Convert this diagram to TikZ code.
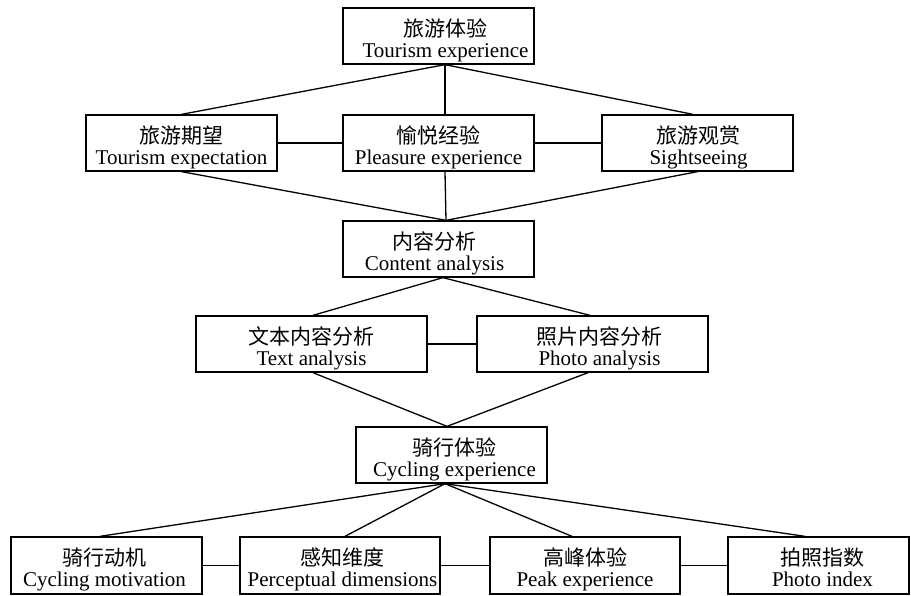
\documentclass[tikz,border=0pt]{standalone}
\usepackage{fontspec}
\setmainfont{Liberation Serif}
\newfontfamily\cjk{Noto Sans CJK SC}
\usetikzlibrary{calc}
\newcommand\twol[3]{\hspace*{#1}{\cjk #2}\rule{0pt}{26pt}\\\hspace*{#1}#3\rule[-4.5pt]{0pt}{4.5pt}}
\begin{document}
\begin{tikzpicture}[x=1pt,y=-1pt,
  box/.style={draw, line width=1.3pt, inner sep=0pt, minimum height=56pt,
    minimum width=191pt, align=center, font=\fontsize{21}{21}\selectfont},
  conn/.style={line width=1.3pt}]
\fill[white] (0,0) rectangle (911,596);
\useasboundingbox (0,0) rectangle (911,596);
% boxes
\node[box] (tour)  at (438.5,36)  {\twol{14pt}{旅游体验}{Tourism experience}};
\node[box] (exp)   at (181.5,143) {\twol{0pt}{旅游期望}{Tourism expectation}};
\node[box] (pls)   at (438.5,143) {\twol{0pt}{愉悦经验}{Pleasure experience}};
\node[box] (sight) at (697.5,143) {\twol{2pt}{旅游观赏}{Sightseeing}};
\node[box] (cont)  at (438.5,249) {\twol{-8pt}{内容分析}{Content analysis}};
\node[box, minimum width=231pt] (text)  at (311.5,344) {\twol{0pt}{文本内容分析}{Text analysis}};
\node[box, minimum width=231pt] (photo) at (592.5,344) {\twol{14pt}{照片内容分析}{Photo analysis}};
\node[box] (cyc)   at (451.5,455) {\twol{6pt}{骑行体验}{Cycling experience}};
\node[box, minimum height=57pt] (mot)  at (106.5,565.5) {\twol{-4pt}{骑行动机}{Cycling motivation}};
\node[box, minimum height=57pt, minimum width=200pt] (perc) at (340,565.5) {\twol{5pt}{感知维度}{Perceptual dimensions}};
\node[box, minimum height=57pt, minimum width=190pt] (peak) at (585,565.5) {\twol{0pt}{高峰体验}{Peak experience}};
\node[box, minimum height=57pt, minimum width=181pt] (idx)  at (818.5,565.5) {\twol{8pt}{拍照指数}{Photo index}};
% attachment points
\coordinate (tourS) at ($(tour.south)+(6.5,0)$);
\coordinate (plsN)  at ($(pls.north)+(6.5,0)$);
\coordinate (plsS)  at ($(pls.south)+(6.5,0)$);
\coordinate (sightN) at ($(sight.north)+(-4.5,0)$);
\coordinate (contN) at ($(cont.north)+(7.5,0)$);
\coordinate (contS) at ($(cont.south)+(4.5,0)$);
\coordinate (textN) at ($(text.north)+(1.5,0)$);
\coordinate (textS) at ($(text.south)+(1.5,0)$);
\coordinate (photoN) at ($(photo.north)+(-2.5,0)$);
\coordinate (photoS) at ($(photo.south)+(-4.5,0)$);
\coordinate (cycN) at ($(cyc.north)+(-4.5,0)$);
\coordinate (cycS) at ($(cyc.south)+(-6.5,0)$);
\coordinate (motN) at ($(mot.north)+(-6.5,0)$);
\coordinate (percN) at ($(perc.north)+(5,0)$);
\coordinate (peakN) at ($(peak.north)+(-13,0)$);
\coordinate (idxN) at ($(idx.north)+(-13.5,0)$);
% connectors
\draw[conn] (tourS) -- (exp.north);
\draw[conn] (tourS) -- (plsN);
\draw[conn] (tourS) -- (sightN);
\draw[conn] (exp.east) -- (pls.west);
\draw[conn] (pls.east) -- (sight.west);
\draw[conn] (exp.south) -- (contN);
\draw[conn] (plsS) -- (contN);
\draw[conn] (sight.south) -- (contN);
\draw[conn] (contS) -- (textN);
\draw[conn] (contS) -- (photoN);
\draw[conn] (text.east) -- (photo.west);
\draw[conn] (textS) -- (cycN);
\draw[conn] (photoS) -- (cycN);
\draw[conn] (cycS) -- (motN);
\draw[conn] (cycS) -- (percN);
\draw[conn] (cycS) -- (peakN);
\draw[conn] (cycS) -- (idxN);
\draw[conn] (mot.east) -- (perc.west);
\draw[conn] (perc.east) -- (peak.west);
\draw[conn] (peak.east) -- (idx.west);
\end{tikzpicture}
\end{document}
